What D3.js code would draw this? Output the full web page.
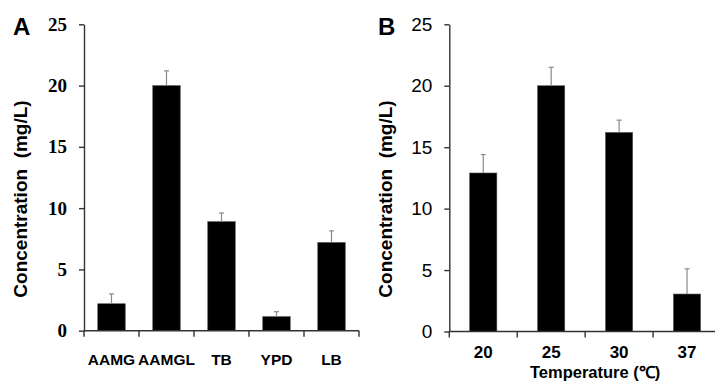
<!DOCTYPE html>
<html>
<head>
<meta charset="utf-8">
<script src="https://cdn.jsdelivr.net/npm/d3@7"></script>
<style>
  body { margin: 0; background: #fff; }
  svg { display: block; }
</style>
</head>
<body>
<div id="chart"></div>
<script>
// panel A: culture media
const mediaCategories = ["AAMG", "AAMGL", "TB", "YPD", "LB"];
const mediaMeans = [2.2, 20.0, 8.9, 1.15, 7.2];
const mediaErrors = [0.8, 1.2, 0.7, 0.4, 0.95];

// panel B: temperature
const tempCategories = ["20", "25", "30", "37"];
const tempMeans = [12.9, 20.0, 16.2, 3.05];
const tempErrors = [1.5, 1.5, 1.0, 2.05];

const yTicks = [0, 5, 10, 15, 20, 25];
const yTitle = "Concentration  (mg/L)";

const W = 715, H = 383;

let svg = d3.select("#chart")
    .append("svg")
    .attr("width", W)
    .attr("height", H);

function drawPanel(opt) {
    const g = svg.append("g");

    const x = d3.scaleBand()
        .domain(opt.categories)
        .range(opt.xRange)
        .padding(0);

    const y = d3.scaleLinear()
        .domain([0, 25])
        .range(opt.yRange);

    const barW = x.bandwidth() * opt.barFrac;

    // bars
    g.selectAll("rect.bar")
        .data(opt.categories)
        .join("rect")
        .attr("class", "bar")
        .attr("x", d => x(d) + (x.bandwidth() - barW) / 2)
        .attr("width", barW)
        .attr("y", (d, i) => y(opt.means[i]))
        .attr("height", (d, i) => y(0) - y(opt.means[i]))
        .attr("fill", "#000")
        .attr("stroke", "#555")
        .attr("stroke-width", 0.6);

    // error bars (upper only)
    const err = g.selectAll("g.err")
        .data(opt.categories)
        .join("g")
        .attr("class", "err")
        .attr("stroke", "#8a8a8a")
        .attr("stroke-width", 1.2);
    err.append("line")
        .attr("x1", d => x(d) + x.bandwidth() / 2)
        .attr("x2", d => x(d) + x.bandwidth() / 2)
        .attr("y1", (d, i) => y(opt.means[i]))
        .attr("y2", (d, i) => y(opt.means[i] + opt.errors[i]));
    err.append("line")
        .attr("x1", d => x(d) + x.bandwidth() / 2 - 2.5)
        .attr("x2", d => x(d) + x.bandwidth() / 2 + 2.5)
        .attr("y1", (d, i) => y(opt.means[i] + opt.errors[i]))
        .attr("y2", (d, i) => y(opt.means[i] + opt.errors[i]));

    // y axis
    const yAxis = g.append("g")
        .attr("transform", `translate(${opt.xRange[0]},0)`)
        .call(d3.axisLeft(y).tickValues(yTicks).tickSize(5).tickSizeOuter(0).tickPadding(12));
    yAxis.select(".domain").attr("stroke", "#333").attr("stroke-width", 1.4);
    yAxis.selectAll(".tick line").attr("stroke", "#333").attr("stroke-width", 1.4);
    yAxis.selectAll(".tick text")
        .attr("fill", "#000")
        .style("font-family", opt.yFont)
        .style("font-weight", opt.yWeight)
        .style("font-size", opt.ySize + "px");

    // x axis line with ticks at band boundaries
    const xg = g.append("g").attr("stroke", "#333").attr("stroke-width", 1.4);
    xg.append("line")
        .attr("x1", opt.xRange[0]).attr("x2", opt.xRange[1])
        .attr("y1", y(0)).attr("y2", y(0));
    const bounds = d3.range(opt.categories.length + 1).map(i => opt.xRange[0] + i * x.step());
    xg.selectAll("line.tk")
        .data(bounds)
        .join("line")
        .attr("class", "tk")
        .attr("x1", d => d).attr("x2", d => d)
        .attr("y1", y(0)).attr("y2", y(0) + 6);

    // x labels
    g.selectAll("text.xl")
        .data(opt.categories)
        .join("text")
        .attr("class", "xl")
        .attr("x", d => x(d) + x.bandwidth() / 2)
        .attr("y", opt.xLabelY)
        .attr("text-anchor", "middle")
        .style("font-family", "Liberation Sans, Arial, sans-serif")
        .style("font-weight", "bold")
        .style("font-size", opt.xSize + "px")
        .text(d => d);

    // y title
    g.append("text")
        .attr("transform", `translate(${opt.titleX},${199}) rotate(-90)`)
        .attr("text-anchor", "middle")
        .style("font-family", "Liberation Sans, Arial, sans-serif")
        .style("font-weight", "bold")
        .style("font-size", "19px")
        .style("white-space", "pre")
        .text(yTitle);

    // panel letter
    g.append("text")
        .attr("x", opt.letterX)
        .attr("y", 35)
        .style("font-family", "Liberation Sans, Arial, sans-serif")
        .style("font-weight", "bold")
        .style("font-size", "24px")
        .text(opt.letter);

    if (opt.xTitle) {
        g.append("text")
            .attr("x", (opt.xRange[0] + opt.xRange[1]) / 2 + 10)
            .attr("y", 378)
            .attr("text-anchor", "middle")
            .style("font-family", "Liberation Sans, Arial, sans-serif")
            .style("font-weight", "bold")
            .style("font-size", "16.5px")
            .text(opt.xTitle);
    }
}

drawPanel({
    categories: mediaCategories,
    means: mediaMeans,
    errors: mediaErrors,
    xRange: [84, 359],
    yRange: [330.7, 24.3],
    barFrac: 0.5,
    yFont: "Liberation Serif, 'Times New Roman', serif",
    yWeight: "bold",
    ySize: 19,
    xSize: 15.5,
    xLabelY: 365,
    titleX: 27,
    letter: "A",
    letterX: 13
});

drawPanel({
    categories: tempCategories,
    means: tempMeans,
    errors: tempErrors,
    xRange: [449.3, 721],
    yRange: [331.5, 24.3],
    barFrac: 0.4,
    yFont: "Liberation Sans, Arial, sans-serif",
    yWeight: "normal",
    ySize: 19,
    xSize: 17,
    xLabelY: 358,
    titleX: 391.7,
    letter: "B",
    letterX: 378,
    xTitle: "Temperature (℃)"
});
</script>
</body>
</html>
